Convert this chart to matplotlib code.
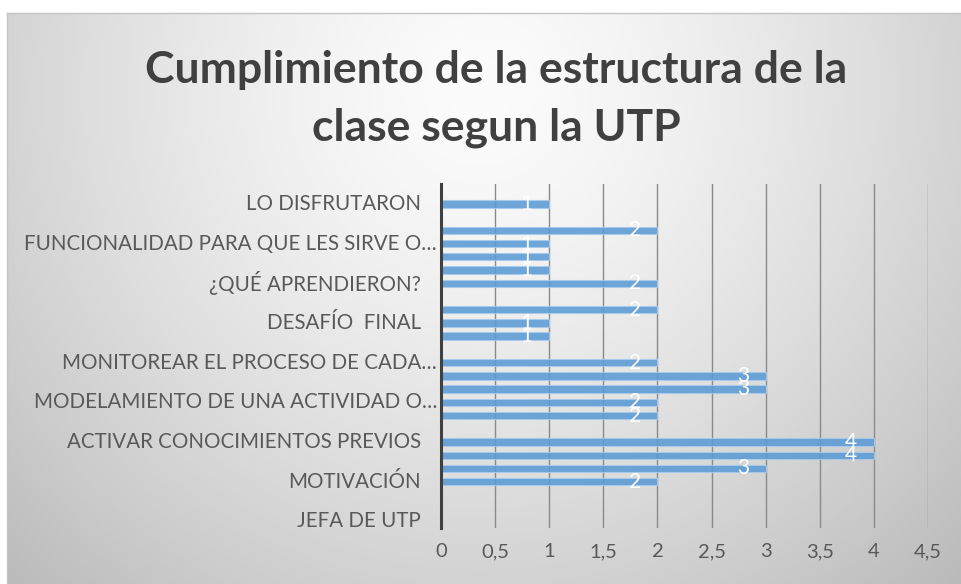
import numpy as np
import matplotlib.pyplot as plt
from matplotlib.lines import Line2D
from matplotlib.transforms import blended_transform_factory

plt.rcParams['font.family'] = ['Lato', 'DejaVu Sans']

title_lines = ["Cumplimiento de la estructura de la", "clase segun la UTP"]

# categories from bottom to top; only every third name is printed on the axis
categories = ["JEFA DE UTP", "", "",
              "MOTIVACIÓN", "", "",
              "ACTIVAR CONOCIMIENTOS PREVIOS", "", "",
              "MODELAMIENTO DE UNA ACTIVIDAD O…", "", "",
              "MONITOREAR EL PROCESO DE CADA…", "", "",
              "DESAFÍO  FINAL", "", "",
              "¿QUÉ APRENDIERON?", "", "",
              "FUNCIONALIDAD PARA QUE LES SIRVE O…", "", "",
              "LO DISFRUTARON", ""]
values = [0, 0, 0, 2, 3, 4, 4, 0, 2, 2, 3, 3, 2, 0, 1, 1, 2, 0, 2, 1, 1, 1, 2, 0, 1, 0]
x_ticks = [0, 0.5, 1, 1.5, 2, 2.5, 3, 3.5, 4, 4.5]

W, H = 962, 584
fig = plt.figure(figsize=(W / 100, H / 100), dpi=100)

# grey radial background of the chart frame
bg = fig.add_axes([0, 0, 1, 1], zorder=-10)
bg.axis('off')
yy, xx = np.mgrid[0:H, 0:W]
d = np.hypot(xx - 480, yy - 90)
v = (252 - 68 * np.clip(d / 700, 0, 1) ** 1.4) / 255
img = np.dstack([v, v, v])
img[:13, :] = 1
img[:, :7] = 1
bg.imshow(img, extent=[0, 1, 0, 1], aspect='auto', origin='upper')
fig.add_artist(Line2D([7 / W, 1], [1 - 13 / H] * 2, color='#c4c4c4', lw=1))
fig.add_artist(Line2D([7 / W] * 2, [0, 1 - 13 / H], color='#c4c4c4', lw=1))

for i, line in enumerate(title_lines):
    fig.text(496 / W, 1 - (70 + 58 * i) / H, line, ha='center', va='center',
             fontsize=32, fontweight='bold', color='#404040')

ax = fig.add_axes([441 / W, 56 / H, 487 / W, 344 / H])
ax.patch.set_alpha(0)
pos = np.arange(1, len(values) + 1)
ax.barh(pos, values, height=0.56, color='#5B9BD5', alpha=0.88,
        edgecolor='#a8cbed', linewidth=0.8, zorder=3)

for p, val in zip(pos, values):
    if val > 0:
        ax.annotate(str(val), (val, p), xytext=(-12, 0), textcoords='offset points',
                    ha='right', va='center', color='white', fontsize=15, zorder=4)

ax.set_xlim(0, 4.5)
ax.set_ylim(0.5, len(values) + 0.5)
ax.set_xticks(x_ticks)
ax.set_xticklabels([f"{t:g}".replace('.', ',') for t in x_ticks])
ax.set_yticks([])
ax.tick_params(axis='x', length=0, pad=11, labelsize=14.5, labelcolor='#595959')
ax.grid(axis='x', color='#8a8a8a', lw=1, zorder=1)
ax.set_axisbelow(True)
for side in ['top', 'right', 'bottom']:
    ax.spines[side].set_visible(False)
ax.spines['left'].set_color('#404040')
ax.spines['left'].set_linewidth(2.2)
ax.spines['left'].set_zorder(5)

trans = blended_transform_factory(ax.transAxes, ax.transData)
for p, name in zip(pos, categories):
    if name:
        gap = 4 if name.endswith('…') else 20
        ax.text(-gap / 487, p, name, transform=trans, ha='right', va='center',
                fontsize=14.8, color='#595959')

fig.savefig('out.png', dpi=100)
